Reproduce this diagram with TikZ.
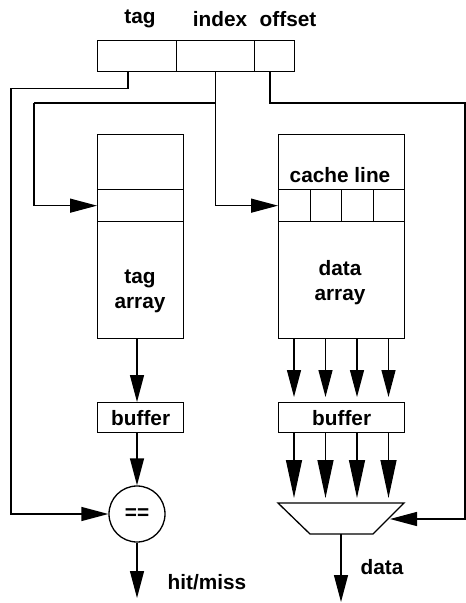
\documentclass[tikz,border=0pt]{standalone}
\usepackage{fontspec}
\setmainfont{Liberation Sans}
\usetikzlibrary{arrows.meta,calc}
\begin{document}
\begin{tikzpicture}[x=1pt,y=-1pt,line width=1.3pt,
  font=\fontsize{20.8}{25}\selectfont\bfseries,
  box/.style={draw,rectangle,inner sep=0pt,anchor=north west},
  arr/.style={-{Triangle[length=27pt,width=14pt]}},
  bigarr/.style={-{Triangle[length=38pt,width=16pt]}},
  lbl/.style={inner sep=0pt}]
\useasboundingbox (0,0) rectangle (466,603);
% address fields
\node[box,minimum width=79pt,minimum height=31pt] (tagf) at (97,40) {};
\node[box,minimum width=78pt,minimum height=31pt] (idxf) at (176,40) {};
\node[box,minimum width=40pt,minimum height=31pt] (offf) at (254,40) {};
\node[lbl] (tagl) at (140,19) {tag};
\node[lbl] (idxl) at (220,19) {index};
\node[lbl] (offl) at (288,19) {offset};
% tag array
\node[box,minimum width=86pt,minimum height=204pt] (tagarr) at (97,134) {};
\node[box,minimum width=86pt,minimum height=32pt] (tagrow) at (97,189) {};
\node[lbl,align=center] (tagtxt) at (140,291) {tag\\array};
% data array
\node[box,minimum width=126pt,minimum height=204pt] (datarr) at (278,134) {};
\foreach \i in {0,1,2,3}{
  \node[box,minimum width=31.5pt,minimum height=32pt] (cell\i) at (278+31.5*\i,189) {};
}
\node[lbl] (cltxt) at (340,175) {cache line};
\node[lbl,align=center] (datxt) at (340,283) {data\\array};
% buffers
\node[box,minimum width=86pt,minimum height=30pt] (buf1) at (97,402) {};
\node[lbl] at (buf1.center) {buffer};
\node[box,minimum width=126pt,minimum height=30pt] (buf2) at (278,402) {};
\node[lbl] at (buf2.center) {buffer};
% comparator
\node[draw,circle,minimum size=56pt,inner sep=0pt] (cmp) at (137,514) {==};
% mux
\coordinate (mtl) at (278,503);
\coordinate (mtr) at (404,503);
\coordinate (mbr) at (373,534);
\coordinate (mbl) at (310,534);
\draw (mtl) -- (mtr) -- (mbr) -- (mbl) -- cycle;
\coordinate (mright) at (390,519);
\coordinate (mout) at (341,534);
% wires
\coordinate (tagtap) at ($(tagf.south west)+(31,0)$);
\draw[arr] (tagtap) -- ++(0,16) -| (11,514) -- (cmp.west);
\coordinate (idxtap) at (idxf.south);
\draw (idxtap) |- (34,103);
\draw[arr] (34,103) |- (tagrow.west);
\draw[arr] (idxtap) |- (cell0.west);
\coordinate (offtap) at ($(offf.south west)+(16,0)$);
\draw[arr] (offtap) |- (465,103) |- (mright);
% tag path
\coordinate (tago) at (137,338);
\draw[arr] (tago) -- (tago |- buf1.north);
\draw[arr] (buf1.south -| tago) -- (cmp.north);
\coordinate (hm) at (137,598);
\draw[arr] (cmp.south) -- (hm);
\node[lbl] (hml) at (207,582) {hit/miss};
% data path
\foreach \x [count=\k] in {294,325.5,357,388.5}{
  \draw[arr] (\x,338) -- (\x,397);
  \draw[bigarr] (\x,432) -- (\x,498);
}
\coordinate (dout) at (341,602);
\draw[arr] (mout) -- (dout);
\node[lbl] (dl) at (382,567) {data};
\end{tikzpicture}
\end{document}
